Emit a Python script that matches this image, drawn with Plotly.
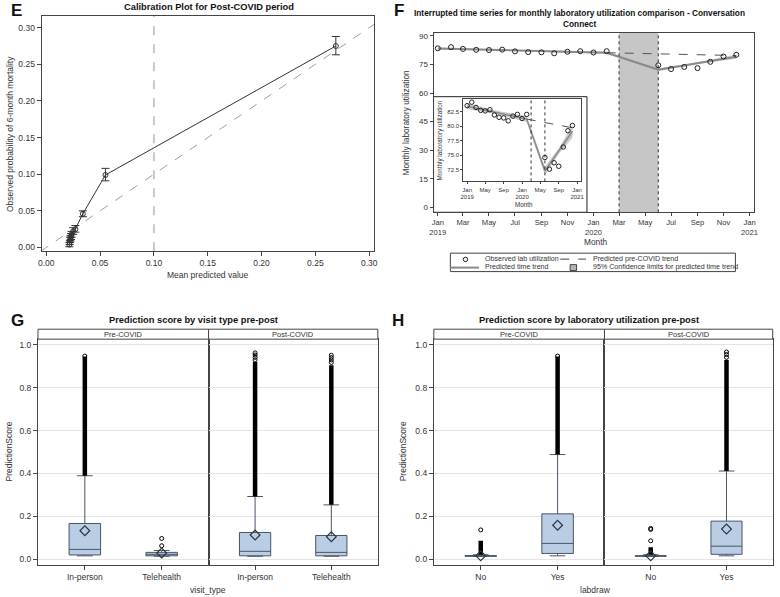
import plotly.graph_objects as go

W, H = 780, 597
FONT = "Liberation Sans, Arial, sans-serif"
INK = "#333333"
FRAME = "#444444"


def px(x):
    return x / W


def py(y):
    return 1 - y / H


# ---------------- Panel E : calibration ----------------
cal_mean_pred = [0.0215, 0.0218, 0.0222, 0.0225, 0.0230, 0.0235, 0.0250, 0.0270, 0.0340, 0.0550, 0.2690]
cal_observed = [0.004, 0.007, 0.010, 0.012, 0.015, 0.018, 0.022, 0.025, 0.046, 0.099, 0.275]
cal_upper = [0.007, 0.010, 0.014, 0.016, 0.019, 0.022, 0.027, 0.030, 0.050, 0.108, 0.288]
cal_lower = [0.001, 0.004, 0.007, 0.009, 0.011, 0.014, 0.018, 0.021, 0.042, 0.091, 0.263]
diag_ref = [-0.005, 0.305]
threshold_x = 0.10
cal_ticks = [0.00, 0.05, 0.10, 0.15, 0.20, 0.25, 0.30]

# ---------------- Panel F : interrupted time series ----------------
obs_months = ["2019-01-01", "2019-02-01", "2019-03-01", "2019-04-01", "2019-05-01", "2019-06-01",
              "2019-07-01", "2019-08-01", "2019-09-01", "2019-10-01", "2019-11-01", "2019-12-01",
              "2020-01-01", "2020-02-01",
              "2020-06-01", "2020-07-01", "2020-08-01", "2020-09-01", "2020-10-01", "2020-11-01",
              "2020-12-01"]
obs_util = [83.5, 84.1, 83.2, 82.7, 82.6, 82.8, 81.9, 81.5, 81.4, 80.9, 81.7, 82.0, 81.3, 82.0,
            74.6, 72.6, 73.7, 73.1, 76.4, 79.2, 80.1]
pred_months = ["2019-01-01", "2019-07-01", "2020-02-01", "2020-06-01", "2020-09-01", "2020-12-01"]
pred_util = [83.4, 82.4, 81.2, 72.3, 75.7, 79.1]
pred_lower = [82.9, 82.1, 80.7, 71.6, 75.2, 78.0]
pred_upper = [83.9, 82.7, 81.7, 73.0, 76.2, 80.2]
precovid_months = ["2020-02-01", "2020-12-01"]
precovid_util = [81.2, 79.7]
covid_start, covid_end = "2020-03-01", "2020-06-01"

f_tickvals = ["2019-01-01", "2019-03-01", "2019-05-01", "2019-07-01", "2019-09-01", "2019-11-01",
              "2020-01-01", "2020-03-01", "2020-05-01", "2020-07-01", "2020-09-01", "2020-11-01",
              "2021-01-01"]
f_ticktext = ["Jan<br>2019", "Mar", "May", "Jul", "Sep", "Nov", "Jan<br>2020", "Mar", "May", "Jul",
              "Sep", "Nov", "Jan<br>2021"]
f_yticks = [0, 15, 30, 45, 60, 75, 90]
inset_tickvals = ["2019-01-01", "2019-05-01", "2019-09-01", "2020-01-01", "2020-05-01", "2020-09-01",
                  "2021-01-01"]
inset_ticktext = ["Jan<br>2019", "May", "Sep", "Jan<br>2020", "May", "Sep", "Jan<br>2021"]
inset_yticks = [72.5, 75.0, 77.5, 80.0, 82.5]

# ---------------- Panel G : visit type ----------------
visit_types = ["In-person", "Telehealth"]
g_pre_q1 = [0.019, 0.015]
g_pre_med = [0.045, 0.022]
g_pre_q3 = [0.166, 0.031]
g_pre_lo = [0.015, 0.013]
g_pre_hi = [0.389, 0.040]
g_pre_mean = [0.132, 0.028]
g_pre_dense = [[0.389, 0.946], None]
g_pre_sparse = [[0.948], [0.062, 0.096]]

g_post_q1 = [0.015, 0.015]
g_post_med = [0.036, 0.031]
g_post_q3 = [0.124, 0.110]
g_post_lo = [0.013, 0.013]
g_post_hi = [0.292, 0.253]
g_post_mean = [0.112, 0.104]
g_post_dense = [[0.292, 0.920], [0.253, 0.905]]
g_post_sparse = [[0.930, 0.942, 0.953, 0.963], [0.918, 0.930, 0.941, 0.952]]

# ---------------- Panel H : lab draw ----------------
labdraw = ["No", "Yes"]
h_pre_q1 = [0.013, 0.026]
h_pre_med = [0.014, 0.073]
h_pre_q3 = [0.016, 0.211]
h_pre_lo = [0.012, 0.015]
h_pre_hi = [0.020, 0.488]
h_pre_mean = [0.015, 0.158]
h_pre_dense = [[0.020, 0.085], [0.488, 0.946]]
h_pre_sparse = [[0.136], [0.948]]

h_post_q1 = [0.013, 0.022]
h_post_med = [0.014, 0.060]
h_post_q3 = [0.016, 0.177]
h_post_lo = [0.012, 0.015]
h_post_hi = [0.020, 0.411]
h_post_mean = [0.015, 0.140]
h_post_dense = [[0.020, 0.055], [0.411, 0.930]]
h_post_sparse = [[0.085, 0.138, 0.143], [0.942, 0.955, 0.967]]

score_ticks = [0.0, 0.2, 0.4, 0.6, 0.8, 1.0]

# =========================================================
fig = go.Figure()
tickfont = dict(family=FONT, size=8.5, color=INK)


def frame_axis(**kw):
    d = dict(showline=True, mirror=True, linecolor=FRAME, linewidth=1, ticks="outside",
             ticklen=4, tickcolor=FRAME, showgrid=False, zeroline=False, tickfont=tickfont)
    d.update(kw)
    return d


# ---- E traces
fig.add_trace(go.Scatter(x=diag_ref, y=diag_ref, mode="lines", xaxis="x", yaxis="y",
                         line=dict(color="#a0a0a0", width=1, dash="dash"), showlegend=False))
fig.add_trace(go.Scatter(
    x=cal_mean_pred, y=cal_observed, mode="lines+markers", xaxis="x", yaxis="y",
    line=dict(color="#333333", width=1),
    marker=dict(symbol="circle-open", size=5, color="#333333", line=dict(width=1)),
    error_y=dict(type="data", symmetric=False,
                 array=[u - o for u, o in zip(cal_upper, cal_observed)],
                 arrayminus=[o - l for o, l in zip(cal_observed, cal_lower)],
                 color="#333333", thickness=1, width=4),
    showlegend=False))


# ---- F traces
def add_its(xa, ya, msize, lw):
    fig.add_trace(go.Scatter(x=pred_months, y=pred_lower, mode="lines", xaxis=xa, yaxis=ya,
                             line=dict(color="rgba(0,0,0,0)", width=0), showlegend=False,
                             hoverinfo="skip"))
    fig.add_trace(go.Scatter(x=pred_months, y=pred_upper, mode="lines", xaxis=xa, yaxis=ya,
                             line=dict(color="rgba(0,0,0,0)", width=0), fill="tonexty",
                             fillcolor="rgba(160,160,160,0.55)", showlegend=False,
                             hoverinfo="skip"))
    fig.add_trace(go.Scatter(x=pred_months, y=pred_util, mode="lines", xaxis=xa, yaxis=ya,
                             line=dict(color="#8a8a8a", width=lw), showlegend=False))
    fig.add_trace(go.Scatter(x=precovid_months, y=precovid_util, mode="lines", xaxis=xa, yaxis=ya,
                             line=dict(color="#555555", width=1, dash="dash"), showlegend=False))
    fig.add_trace(go.Scatter(x=obs_months, y=obs_util, mode="markers", xaxis=xa, yaxis=ya,
                             marker=dict(symbol="circle-open", size=msize, color="#222222",
                                         line=dict(width=1)), showlegend=False))


add_its("x2", "y2", 5, 2)
add_its("x3", "y3", 4.5, 1.5)

# ---- Box panels
BOX_FILL = "#b9cde5"
BOX_LINE = "#4a5566"


def add_box_panel(xa, ya, cats, q1, med, q3, lo, hi, mean, dense, sparse):
    fig.add_trace(go.Box(x=cats, q1=q1, median=med, q3=q3, lowerfence=lo, upperfence=hi,
                         xaxis=xa, yaxis=ya, width=0.41, whiskerwidth=0.5,
                         fillcolor=BOX_FILL, line=dict(color=BOX_LINE, width=1),
                         boxpoints=False, showlegend=False, hoverinfo="skip"))
    for c, d in zip(cats, dense):
        if d is None:
            continue
        fig.add_trace(go.Scatter(x=[c, c], y=d, mode="lines", xaxis=xa, yaxis=ya,
                                 line=dict(color="black", width=4.5), showlegend=False))
    sx, sy = [], []
    for c, s in zip(cats, sparse):
        for v in s:
            sx.append(c)
            sy.append(v)
    fig.add_trace(go.Scatter(x=sx, y=sy, mode="markers", xaxis=xa, yaxis=ya,
                             marker=dict(symbol="circle-open", size=4, color="black",
                                         line=dict(width=1)), showlegend=False))
    fig.add_trace(go.Scatter(x=cats, y=mean, mode="markers", xaxis=xa, yaxis=ya,
                             marker=dict(symbol="diamond-open", size=7.5, color="#2d3540",
                                         line=dict(width=1.2)), showlegend=False))


add_box_panel("x4", "y4", visit_types, g_pre_q1, g_pre_med, g_pre_q3, g_pre_lo, g_pre_hi,
              g_pre_mean, g_pre_dense, g_pre_sparse)
add_box_panel("x5", "y5", visit_types, g_post_q1, g_post_med, g_post_q3, g_post_lo, g_post_hi,
              g_post_mean, g_post_dense, g_post_sparse)
add_box_panel("x6", "y6", labdraw, h_pre_q1, h_pre_med, h_pre_q3, h_pre_lo, h_pre_hi,
              h_pre_mean, h_pre_dense, h_pre_sparse)
add_box_panel("x7", "y7", labdraw, h_post_q1, h_post_med, h_post_q3, h_post_lo, h_post_hi,
              h_post_mean, h_post_dense, h_post_sparse)

# =========================================================
layout = dict(
    width=W, height=H, margin=dict(l=0, r=0, t=0, b=0),
    paper_bgcolor="white", plot_bgcolor="white", showlegend=False,
    font=dict(family=FONT, size=9, color=INK),
    boxmode="overlay",
)

# E axes
layout["xaxis"] = frame_axis(domain=[px(38), px(374)], range=[-0.0043, 0.3046], tickvals=cal_ticks,
                             tickformat=".2f", anchor="y")
layout["yaxis"] = frame_axis(domain=[py(251), py(15)], range=[-0.005, 0.316], tickvals=cal_ticks,
                             tickformat=".2f", anchor="x")
# F main
layout["xaxis2"] = frame_axis(domain=[px(434), px(758)], type="date",
                              range=["2018-12-22", "2021-01-12"], tickvals=f_tickvals,
                              ticktext=f_ticktext, anchor="y2", ticklen=3,
                              tickfont=dict(family=FONT, size=7.6, color=INK))
layout["yaxis2"] = frame_axis(domain=[py(212), py(32)], range=[-2.6, 91.6], tickvals=f_yticks,
                              anchor="x2", ticklen=3, tickfont=dict(family=FONT, size=8, color=INK))
# F inset
small = dict(family=FONT, size=6, color=INK)
layout["xaxis3"] = frame_axis(domain=[px(464), px(583)], type="date",
                              range=["2018-12-06", "2021-01-27"], tickvals=inset_tickvals,
                              ticktext=inset_ticktext, anchor="y3", tickfont=small, ticklen=2)
layout["yaxis3"] = frame_axis(domain=[py(181), py(98)], range=[70.5, 84.7], tickvals=inset_yticks,
                              tickformat=".1f", anchor="x3", tickfont=small, ticklen=2)

# Box panels
box_y_dom = [py(565.7), py(339.3)]
grid = dict(showgrid=True, gridcolor="#e4e4e4", gridwidth=1)
panels = [("4", 34.3, 206.7, visit_types, True), ("5", 206.7, 377.7, visit_types, False),
          ("6", 434.3, 606.7, labdraw, True), ("7", 606.7, 776.7, labdraw, False)]
for n, x0, x1, cats, first in panels:
    layout["xaxis" + n] = frame_axis(domain=[px(x0), px(x1)], type="category",
                                     categoryorder="array", categoryarray=cats,
                                     range=[-0.61, 1.61], anchor="y" + n)
    ya = frame_axis(domain=box_y_dom, range=[-0.027, 1.027], tickvals=score_ticks,
                    tickformat=".1f", anchor="x" + n, **grid)
    if not first:
        ya.update(showticklabels=False, ticks="")
    layout["yaxis" + n] = ya

shapes = []
# E threshold line
shapes.append(dict(type="line", xref="x", yref="y domain", x0=threshold_x, x1=threshold_x, y0=0,
                   y1=1, line=dict(color="#c8c8c8", width=2, dash="dash"), layer="below"))
# inset box
shapes.append(dict(type="rect", xref="paper", yref="paper", x0=px(434), x1=px(589), y0=py(212),
                   y1=py(96), fillcolor="white", line=dict(color="#222222", width=1),
                   layer="below"))
# COVID shading
for xa, ya in (("x2", "y2"), ("x3", "y3")):
    shapes.append(dict(type="rect", xref=xa, yref=ya + " domain", x0=covid_start, x1=covid_end,
                       y0=0, y1=1, fillcolor="#c6c6c6", line=dict(width=0), layer="below"))
    for xv in (covid_start, covid_end):
        shapes.append(dict(type="line", xref=xa, yref=ya + " domain", x0=xv, x1=xv, y0=0, y1=1,
                           line=dict(color="#333333", width=1, dash="dot"), layer="above"))
# strips
for x0, x1 in ((34.3, 206.7), (206.7, 377.7), (434.3, 606.7), (606.7, 776.7)):
    shapes.append(dict(type="rect", xref="paper", yref="paper", x0=px(x0), x1=px(x1),
                       y0=py(339.3), y1=py(329.3), fillcolor="white",
                       line=dict(color=FRAME, width=1)))
# legend (F)
shapes.append(dict(type="rect", xref="paper", yref="paper", x0=px(451), x1=px(739), y0=py(271.5),
                   y1=py(253), line=dict(color="#444444", width=1), fillcolor="white"))
shapes.append(dict(type="circle", xref="paper", yref="paper", x0=px(464), x1=px(468.5),
                   y0=py(261.5), y1=py(257), line=dict(color="#222222", width=1)))
shapes.append(dict(type="line", xref="paper", yref="paper", x0=px(562), x1=px(588), y0=py(259),
                   y1=py(259), line=dict(color="#444444", width=1, dash="dash")))
shapes.append(dict(type="line", xref="paper", yref="paper", x0=px(451), x1=px(480), y0=py(267.5),
                   y1=py(267.5), line=dict(color="#8a8a8a", width=2)))
shapes.append(dict(type="rect", xref="paper", yref="paper", x0=px(572), x1=px(578.5),
                   y0=py(270.5), y1=py(264.5), fillcolor="#b4b4b4",
                   line=dict(color="#444444", width=1)))
layout["shapes"] = shapes

ann = []


def text(x, y, s, size=9, xanchor="center", angle=0, color=INK):
    ann.append(dict(x=px(x), y=py(y), xref="paper", yref="paper", text=s, showarrow=False,
                    xanchor=xanchor, yanchor="middle", textangle=angle,
                    font=dict(family=FONT, size=size, color=color)))


# panel letters
for lab, x, y in (("E", 13, 10), ("F", 399, 10), ("G", 14, 320.5), ("H", 398.5, 320.5)):
    text(x, y, "<b>%s</b>" % lab, size=17, color="#111111")
# titles
text(207, 6.5, "<b>Calibration Plot for Post-COVID period</b>", size=9.3, color="#111111")
text(581.5, 12.5, "<b>Interrupted time series for monthly laboratory utilization comparison - "
     "Conversation</b>", size=8.3, color="#111111")
text(581.5, 23, "<b>Connect</b>", size=8.3, color="#111111")
text(191, 320, "<b>Prediction score by visit type pre-post</b>", size=9.3, color="#111111")
text(591, 320, "<b>Prediction score by laboratory utilization pre-post</b>", size=9.3,
     color="#111111")
# axis titles
text(206, 275, "Mean predicted value", size=8.5)
text(5.5, 133, "Observed probability of 6-month mortality", size=8.5, angle=-90)
text(598, 242, "Month", size=8.3)
text(406, 122, "Monthly laboratory utilization", size=8.3, angle=-90)
text(525, 204, "Month", size=6.3)
text(440.5, 140, "Monthly laboratory utilization", size=6.3, angle=-90)
text(206, 590.5, "visit_type", size=8.5)
text(598, 590.5, "labdraw", size=8.5)
text(6, 452, "PredictionScore", size=8.5, angle=-90)
text(404, 452, "PredictionScore", size=8.5, angle=-90)
# strip labels
for cx, s in ((120.5, "Pre-COVID"), (292.2, "Post-COVID"), (520.5, "Pre-COVID"),
              (691.7, "Post-COVID")):
    text(cx, 334.5, s, size=7.5)
# legend labels
text(484, 258.8, "Observed lab utilization", size=7.1, xanchor="left")
text(593, 258.8, "Predicted pre-COVID trend", size=7.1, xanchor="left")
text(484, 267.3, "Predicted time trend", size=7.1, xanchor="left")
text(593, 267.3, "95% Confidence limits for predicted time trend", size=7.1, xanchor="left")
layout["annotations"] = ann

fig.update_layout(**layout)
fig.write_html("out.html", config={"displayModeBar": False},
               post_script="document.body.style.margin='0';document.body.style.overflow='hidden';")
